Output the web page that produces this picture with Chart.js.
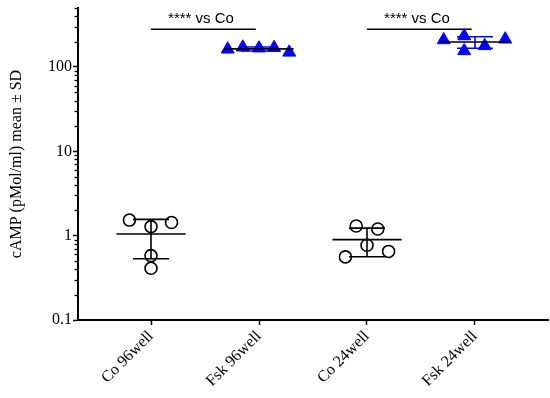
<!DOCTYPE html>
<html>
<head>
<meta charset="utf-8">
<script src="https://cdn.jsdelivr.net/npm/chart.js@4/dist/chart.umd.min.js"></script>
<style>
  html, body { margin: 0; padding: 0; background: #fff; }
  #wrap { width: 550px; height: 398px; position: relative; }
</style>
</head>
<body>
<div id="wrap"><canvas id="c" width="550" height="398"></canvas></div>
<script>
// ---- data ----
const categories = ["Co 96well", "Fsk 96well", "Co 24well", "Fsk 24well"];
const co96 = [1.53, 1.43, 1.28, 0.58, 0.41];
const fsk96 = [162, 171, 167, 169, 149];
const co24 = [1.30, 1.20, 0.77, 0.56, 0.65];
const fsk24 = [209, 233, 155, 178, 213];
const yTickLabels = [0.1, 1, 10, 100];
const sigLabel = "**** vs Co";
const sigPairs = [[0, 1], [2, 3]];
const sigLevel = 280;

// ---- layout / style (not data) ----
const jitter = [
  [-0.20, 0.19, 0, 0, 0],
  [-0.29, -0.15, 0, 0.14, 0.28],
  [-0.10, 0.10, 0, -0.20, 0.20],
  [-0.29, -0.10, -0.10, 0.09, 0.28]
];
const groups = [co96, fsk96, co24, fsk24];
const isFsk = [false, true, false, true];
const BLUE = '#0000FF';
const meanHalf = 0.32, capHalf = 0.167;

function mean(a){ return a.reduce((s,v)=>s+v,0)/a.length; }
function sd(a){ const m=mean(a); return Math.sqrt(a.reduce((s,v)=>s+(v-m)*(v-m),0)/(a.length-1)); }

const datasets = [];
groups.forEach((g, gi) => {
  const m = mean(g), s = sd(g);
  datasets.push({
    type: 'scatter', showLine: true, borderColor: '#000', borderWidth: 1.6,
    pointRadius: 0, data: [{x: gi-meanHalf, y: m}, {x: gi+meanHalf, y: m}]
  });
  datasets.push({
    type: 'scatter', showLine: true, spanGaps: false,
    borderColor: isFsk[gi] ? BLUE : '#000', borderWidth: 1.6, pointRadius: 0,
    data: [
      {x: gi, y: m-s}, {x: gi, y: m+s}, {x: gi, y: null},
      {x: gi-capHalf, y: m+s}, {x: gi+capHalf, y: m+s}, {x: gi, y: null},
      {x: gi-capHalf, y: m-s}, {x: gi+capHalf, y: m-s}
    ]
  });
});
groups.forEach((g, gi) => {
  datasets.push({
    type: 'scatter',
    data: g.map((v, i) => ({x: gi + jitter[gi][i], y: v})),
    pointStyle: isFsk[gi] ? 'triangle' : 'circle',
    pointRadius: isFsk[gi] ? 7.5 : 6,
    pointBackgroundColor: isFsk[gi] ? BLUE : 'rgba(255,255,255,0)',
    pointBorderColor: isFsk[gi] ? BLUE : '#000',
    pointBorderWidth: isFsk[gi] ? 1 : 1.6
  });
});
sigPairs.forEach(p => {
  datasets.push({
    type: 'scatter', showLine: true, borderColor: '#000', borderWidth: 1.6, pointRadius: 0,
    data: [{x: p[0], y: sigLevel}, {x: p[1]-0.03, y: sigLevel}]
  });
});

const extras = {
  id: 'extras',
  afterDraw(chart) {
    const ctx = chart.ctx, ys = chart.scales.y, xs = chart.scales.x;
    ctx.save();
    ctx.strokeStyle = '#000'; ctx.lineWidth = 1.3;
    const left = ys.right;
    ys.ticks.forEach(t => {
      if (yTickLabels.indexOf(t.value) >= 0) return;
      const py = Math.round(ys.getPixelForValue(t.value)) + 0.5;
      ctx.beginPath(); ctx.moveTo(left - 3.5, py); ctx.lineTo(left, py); ctx.stroke();
    });
    ctx.fillStyle = '#000';
    ctx.font = '15px "Liberation Sans", Arial, sans-serif';
    ctx.textAlign = 'center'; ctx.textBaseline = 'alphabetic';
    sigPairs.forEach(p => {
      const cx = (xs.getPixelForValue(p[0]) + xs.getPixelForValue(p[1])) / 2 - 4;
      const cy = ys.getPixelForValue(sigLevel) - 6;
      ctx.fillText(sigLabel, cx, cy);
    });
    ctx.restore();
  }
};

const serif = '"Liberation Serif", "Times New Roman", serif';

new Chart(document.getElementById('c'), {
  type: 'scatter',
  data: { datasets },
  plugins: [extras],
  options: {
    responsive: false, animation: false,
    layout: { autoPadding: false, padding: { top: 8, right: 2, left: 0, bottom: 0 } },
    plugins: { legend: { display: false }, tooltip: { enabled: false } },
    scales: {
      x: {
        type: 'linear', min: -0.676, max: 3.676,
        afterBuildTicks: s => { s.ticks = categories.map((c, i) => ({value: i})); },
        afterFit: s => { s.height = 78; s.paddingLeft = 0; s.paddingRight = 0; },
        grid: { drawOnChartArea: false, drawTicks: true, tickLength: 5, tickWidth: 1.5, tickColor: '#000' },
        border: { display: true, color: '#000', width: 2 },
        ticks: {
          autoSkip: false, minRotation: 45, maxRotation: 45, padding: 2,
          color: '#000', font: { family: serif, size: 16 },
          callback: v => categories[v] ?? ''
        }
      },
      y: {
        type: 'logarithmic', min: 0.1, max: 500,
        afterBuildTicks: s => {
          const t = [];
          [0.1, 1, 10, 100].forEach(d => { for (let k = 1; k <= 9; k++) { const v = +(d*k).toPrecision(3); if (v <= 500) t.push({value: v}); } });
          s.ticks = t;
        },
        afterFit: s => { s.width = 78; s.paddingTop = 0; s.paddingBottom = 0; },
        grid: {
          drawOnChartArea: false, drawTicks: true, tickLength: 5, tickWidth: 1.5,
          tickColor: c => (yTickLabels.indexOf(c.tick.value) >= 0 ? '#000' : 'rgba(0,0,0,0)')
        },
        border: { display: true, color: '#000', width: 2 },
        ticks: {
          autoSkip: false, padding: 1, color: '#000',
          font: { family: serif, size: 16 },
          callback: v => (yTickLabels.indexOf(v) >= 0 ? String(v) : '')
        },
        title: {
          display: true, text: 'cAMP (pMol/ml) mean ± SD', color: '#000',
          font: { family: serif, size: 16 },
          padding: { top: 7, bottom: 0 }
        }
      }
    }
  }
});
</script>
</body>
</html>
